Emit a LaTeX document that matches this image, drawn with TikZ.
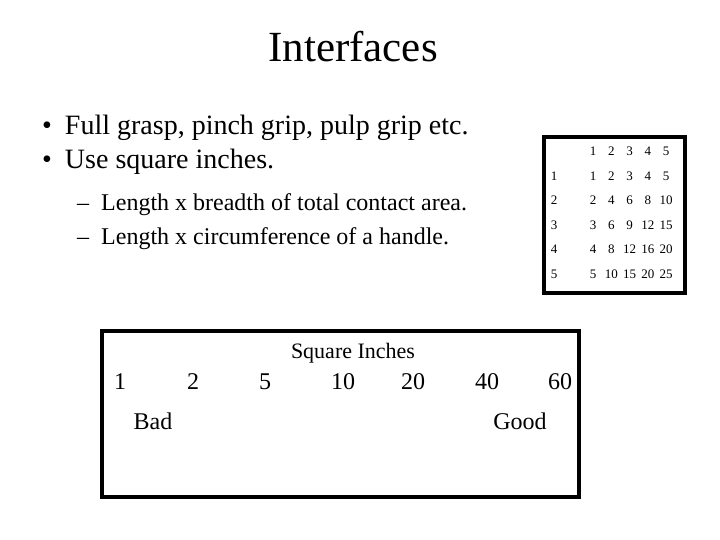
\documentclass[tikz,border=0pt]{standalone}
\usepackage{fontspec}
\setmainfont{Liberation Serif}
\begin{document}
\begin{tikzpicture}[x=1pt,y=-1pt,
  lbl/.style={inner sep=0pt,anchor=base},
  lft/.style={inner sep=0pt,anchor=base west},
  tb/.style={inner sep=0pt,anchor=base,font=\fontsize{13}{15}\selectfont},
  frame/.style={draw,line width=3.5pt}]
\useasboundingbox (0,0) rectangle (720,540);
\node[lbl,font=\fontsize{43}{46}\selectfont] (title) at (353,62) {Interfaces};
\node[lft,font=\fontsize{28}{32}\selectfont] (b1) at (42,135) {•\hspace{13pt}Full grasp, pinch grip, pulp grip etc.};
\node[lft,font=\fontsize{28}{32}\selectfont] (b2) at (42,169) {•\hspace{13pt}Use square inches.};
\node[lft,font=\fontsize{24}{28}\selectfont] (s1) at (77,211) {–\hspace{12pt}Length x breadth of total contact area.};
\node[lft,font=\fontsize{24}{28}\selectfont] (s2) at (77,244) {–\hspace{12pt}Length x circumference of a handle.};
\draw[frame] (544,137) rectangle (685,293);
\foreach \v [count=\i] in {1,2,3,4,5}
  \node[tb] (h\i) at ({575+18.2*\i},156) {\v};
\foreach \r [count=\j] in {1,2,3,4,5}{
  \node[tb] (r\j) at (554,{156+24.5*\j}) {\r};
  \foreach \c [count=\i] in {1,2,3,4,5}{
    \pgfmathtruncatemacro\p{\r*\c}
    \node[tb] (c\j\i) at ({575+18.2*\i},{156+24.5*\j}) {\p};
  }
}
\draw[frame] (102,331) rectangle (579,497);
\node[lbl,font=\fontsize{22}{26}\selectfont] (sq) at (353,358) {Square Inches};
\foreach \n/\x in {1/120,2/193,5/265,10/343,20/413,40/487,60/560}
  \node[lbl,font=\fontsize{24}{28}\selectfont] (n\n) at (\x,389) {\n};
\node[lbl,font=\fontsize{24}{28}\selectfont] (bad) at (153,429) {Bad};
\node[lbl,font=\fontsize{24}{28}\selectfont] (good) at (520,429) {Good};
\end{tikzpicture}
\end{document}
